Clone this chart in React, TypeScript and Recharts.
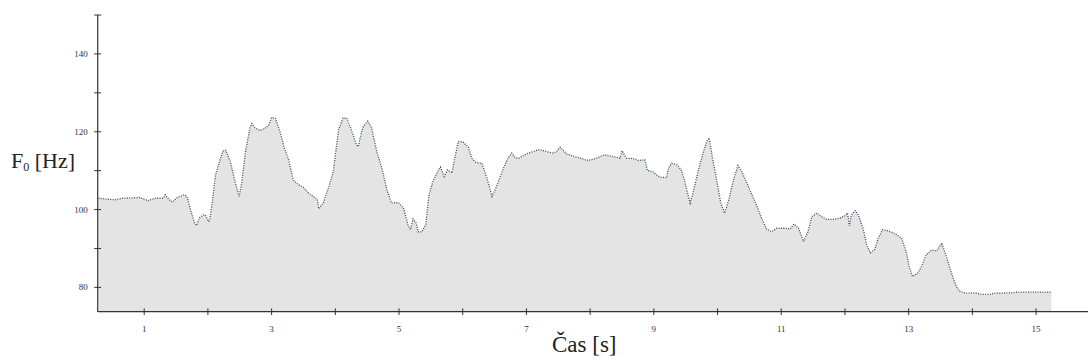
import * as React from 'react';
import { AreaChart, Area, XAxis, YAxis } from 'recharts';

// time [s] and fundamental frequency [Hz]
const times = [
  0.28, 0.54, 0.65, 0.93, 1.06, 1.17, 1.3, 1.33, 1.37, 1.44, 1.52, 1.63, 1.67, 1.72, 1.79, 1.82, 1.87,
  1.93, 1.96, 2.01, 2.03, 2.07, 2.12, 2.19, 2.24, 2.28, 2.35, 2.42, 2.49, 2.53, 2.59, 2.66, 2.69, 2.74,
  2.82, 2.9, 2.96, 3.0, 3.06, 3.13, 3.2, 3.26, 3.34, 3.42, 3.5, 3.58, 3.68, 3.72, 3.74, 3.81, 3.89, 3.97,
  4.0, 4.05, 4.12, 4.18, 4.26, 4.33, 4.36, 4.4, 4.44, 4.51, 4.57, 4.65, 4.73, 4.81, 4.88, 4.99, 5.07,
  5.14, 5.18, 5.22, 5.27, 5.3, 5.36, 5.42, 5.47, 5.54, 5.62, 5.65, 5.71, 5.76, 5.83, 5.88, 5.93, 6.0,
  6.09, 6.14, 6.21, 6.3, 6.38, 6.46, 6.53, 6.64, 6.71, 6.77, 6.82, 6.87, 7.0, 7.19, 7.32, 7.42, 7.47,
  7.53, 7.63, 7.76, 7.97, 8.1, 8.23, 8.36, 8.47, 8.5, 8.57, 8.68, 8.76, 8.86, 8.9, 8.98, 9.04, 9.1, 9.2,
  9.23, 9.28, 9.36, 9.43, 9.48, 9.53, 9.57, 9.62, 9.7, 9.78, 9.83, 9.87, 9.92, 9.99, 10.05, 10.11,
  10.17, 10.25, 10.32, 10.38, 10.46, 10.54, 10.61, 10.69, 10.77, 10.85, 10.93, 11.06, 11.14, 11.2,
  11.27, 11.35, 11.42, 11.48, 11.56, 11.63, 11.71, 11.82, 11.92, 12.0, 12.04, 12.07, 12.1, 12.16,
  12.21, 12.29, 12.34, 12.4, 12.47, 12.52, 12.59, 12.68, 12.79, 12.89, 12.96, 13.01, 13.06, 13.14,
  13.2, 13.27, 13.36, 13.44, 13.52, 13.6, 13.68, 13.75, 13.81, 13.91, 14.04, 14.15, 14.3, 14.33, 14.64,
  14.7, 15.24,
];

const f0 = [
  102.9, 102.5, 102.9, 103.1, 102.3, 102.9, 102.9, 103.8, 102.9, 101.9, 103.1, 103.8, 103.4, 100.4,
  96.5, 95.9, 97.9, 98.6, 98.6, 96.9, 97.4, 102.1, 108.9, 112.8, 115.1, 115.2, 112.4, 107.6, 103.4,
  106.8, 114.9, 121.0, 122.1, 121.0, 120.3, 121.0, 121.8, 123.7, 123.4, 120.1, 115.8, 113.2, 107.6,
  106.4, 105.7, 104.2, 103.1, 102.5, 100.2, 101.7, 105.5, 109.8, 114.0, 120.5, 123.5, 123.5, 120.1,
  116.7, 116.2, 119.2, 121.4, 122.7, 121.0, 114.9, 110.7, 105.1, 101.7, 101.8, 100.4, 96.1, 94.8,
  97.6, 96.5, 94.3, 94.3, 96.2, 103.8, 107.6, 110.2, 110.9, 108.5, 110.2, 109.4, 113.6, 117.5, 117.4,
  116.0, 113.2, 112.1, 111.9, 108.1, 103.4, 105.9, 110.7, 113.2, 114.5, 113.4, 113.1, 114.3, 115.4,
  114.9, 114.5, 114.9, 116.0, 114.3, 113.6, 112.6, 113.2, 114.1, 113.6, 113.2, 115.1, 113.2, 113.1,
  112.6, 112.8, 110.0, 109.8, 108.9, 108.3, 108.2, 110.7, 111.9, 111.5, 110.2, 107.6, 104.2, 101.7,
  104.6, 110.2, 114.9, 117.5, 118.4, 113.2, 107.2, 101.7, 99.1, 102.1, 107.6, 111.3, 109.8, 106.8,
  103.8, 101.2, 97.8, 95.0, 94.3, 95.2, 95.2, 95.0, 96.3, 95.2, 91.8, 94.3, 98.2, 99.1, 98.2, 97.5,
  97.5, 97.8, 98.4, 99.1, 95.8, 98.6, 99.7, 98.6, 94.8, 90.9, 88.9, 89.8, 92.6, 94.8, 94.5, 93.8, 92.6,
  89.2, 85.3, 82.8, 83.6, 85.3, 88.3, 89.6, 89.4, 91.4, 87.5, 83.2, 80.2, 78.9, 78.5, 78.6, 78.2, 78.2,
  78.5, 78.6, 78.8, 78.8,
];

const xTicks = [1, 2, 3, 4, 5, 6, 7, 8, 9, 10, 11, 12, 13, 14, 15];
const yTicks = [80, 90, 100, 110, 120, 130, 140, 150];
const xLabelled = [1, 3, 5, 7, 9, 11, 13, 15];
const yLabelled = [80, 100, 120, 140];

const data = times.map((t, i) => ({ t, f0: f0[i] }));

const serif = '"Liberation Serif", "DejaVu Serif", serif';
const axisColor = '#333';

// tick marks cross the axis line, so draw them ourselves
function XTick(props: any) {
  const { x, y, payload } = props;
  const v = payload.value;
  return (
    <g>
      <line x1={x} x2={x} y1={y - 3.3} y2={y + 3.3} stroke={axisColor} strokeWidth={1} />
      {xLabelled.includes(v) && (
        <text x={x} y={y + 20.5} textAnchor="middle" fontSize={9} fontFamily={serif} fill="#333">
          {v}
        </text>
      )}
    </g>
  );
}

function YTick(props: any) {
  const { x, y, payload } = props;
  const v = payload.value;
  return (
    <g>
      <line x1={x - 3.5} x2={x + 3.5} y1={y} y2={y} stroke={axisColor} strokeWidth={1} />
      {yLabelled.includes(v) && (
        <text x={x - 10} y={y + 3} textAnchor="end" fontSize={9} fontFamily={serif} fill="#333">
          {v}
        </text>
      )}
    </g>
  );
}

export default function App() {
  return (
    <div style={{ position: 'absolute', left: 0, top: 0, width: 1088, height: 363, background: '#fff' }}>
      <AreaChart width={1088} height={363} data={data} margin={{ top: 15, right: 0, bottom: 0, left: 0 }}>
        <XAxis
          dataKey="t"
          type="number"
          domain={[0.27, 15.815]}
          ticks={xTicks}
          tick={<XTick />}
          tickLine={false}
          tickSize={0}
          tickMargin={0}
          axisLine={{ stroke: axisColor, strokeWidth: 1.2 }}
          height={51.3}
          allowDataOverflow
          interval={0}
        />
        <YAxis
          type="number"
          domain={[73.75, 150]}
          ticks={yTicks}
          tick={<YTick />}
          tickLine={false}
          tickSize={0}
          tickMargin={0}
          axisLine={{ stroke: axisColor, strokeWidth: 1.2 }}
          width={97.7}
          allowDataOverflow
          interval={0}
        />
        <Area
          type="linear"
          dataKey="f0"
          stroke="#3c4855"
          strokeWidth={1.3}
          strokeDasharray="1 1.4"
          fill="#e4e4e4"
          fillOpacity={1}
          dot={false}
          activeDot={false}
          isAnimationActive={false}
        />
      </AreaChart>
      <div
        style={{
          position: 'absolute',
          left: 11,
          top: 148,
          fontFamily: serif,
          fontSize: 22,
          color: '#222',
          whiteSpace: 'nowrap',
        }}
      >
        F<sub style={{ fontSize: 12, verticalAlign: '-3px' }}>0</sub> [Hz]
      </div>
      <div
        style={{
          position: 'absolute',
          left: 552,
          top: 332,
          fontFamily: serif,
          fontSize: 23,
          color: '#222',
          whiteSpace: 'nowrap',
        }}
      >
        Čas [s]
      </div>
    </div>
  );
}
